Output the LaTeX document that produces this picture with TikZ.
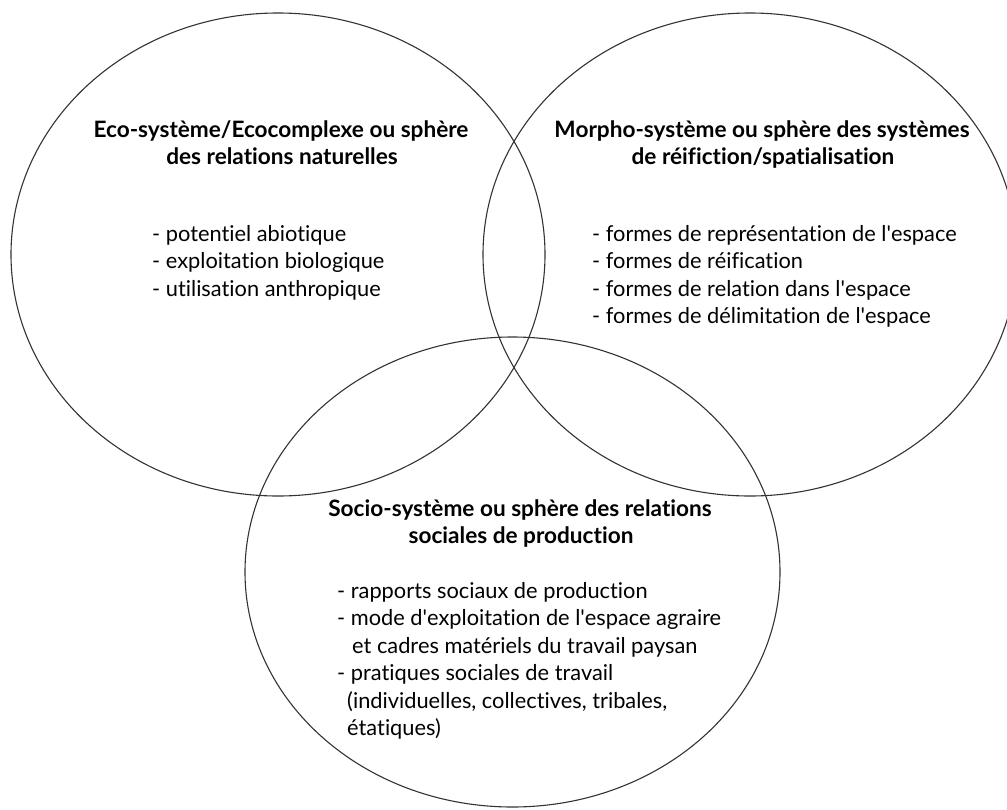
\documentclass[tikz,border=0pt]{standalone}
\usepackage{fontspec}
\setmainfont{Lato}[Ligatures={NoCommon}]
\newcommand{\apo}{\textquotesingle}
\begin{document}
\begin{tikzpicture}[x=1pt,y=-1pt,
  ring/.style={draw=black!80,line width=1.1pt},
  ttl/.style={anchor=base,inner sep=0pt,font=\fontsize{22.6}{24}\selectfont\bfseries},
  itm/.style={anchor=base west,inner sep=0pt,font=\fontsize{21.8}{24}\selectfont}]
\useasboundingbox (0,0) rectangle (1007,809);
\begin{scope}
\clip (0,0) rectangle (1007,809);
\draw[ring] (278,254.5) ellipse [x radius=267pt, y radius=241.5pt];
\draw[ring] (750,254.5) ellipse [x radius=267pt, y radius=241.5pt];
\draw[ring] (512.5,572) ellipse [x radius=267.5pt, y radius=235pt];
\end{scope}
% left
\node[ttl] (t1a) at (281,137) {Eco-système/Ecocomplexe ou sphère};
\node[ttl] (t1b) at (282,164.5) {des relations naturelles};
\node[itm] (l1a) at (152,241) {- potentiel abiotique};
\node[itm] (l1b) at (152,268.5) {- exploitation biologique};
\node[itm] (l1c) at (152,296) {- utilisation anthropique};
% right
\node[ttl] (t2a) at (762,137) {Morpho-système ou sphère des systèmes};
\node[ttl] (t2b) at (763,164.5) {de réifiction/spatialisation};
\node[itm] (l2a) at (592,241) {- formes de représentation de l\apo espace};
\node[itm] (l2b) at (592,268.5) {- formes de réification};
\node[itm] (l2c) at (592,296) {- formes de relation dans l\apo espace};
\node[itm] (l2d) at (592,323.5) {- formes de délimitation de l\apo espace};
% bottom
\node[ttl] (t3a) at (520,516) {Socio-système ou sphère des relations};
\node[ttl] (t3b) at (521,543.5) {sociales de production};
\node[itm] (l3a) at (337,598) {- rapports sociaux de production};
\node[itm] (l3b) at (337,625.5) {- mode d\apo exploitation de l\apo espace agraire};
\node[itm] (l3c) at (352,653) {et cadres matériels du travail paysan};
\node[itm] (l3d) at (337,680.5) {- pratiques sociales de travail};
\node[itm] (l3e) at (347,708) {(individuelles, collectives, tribales,};
\node[itm] (l3f) at (347,735.5) {étatiques)};
\end{tikzpicture}
\end{document}
